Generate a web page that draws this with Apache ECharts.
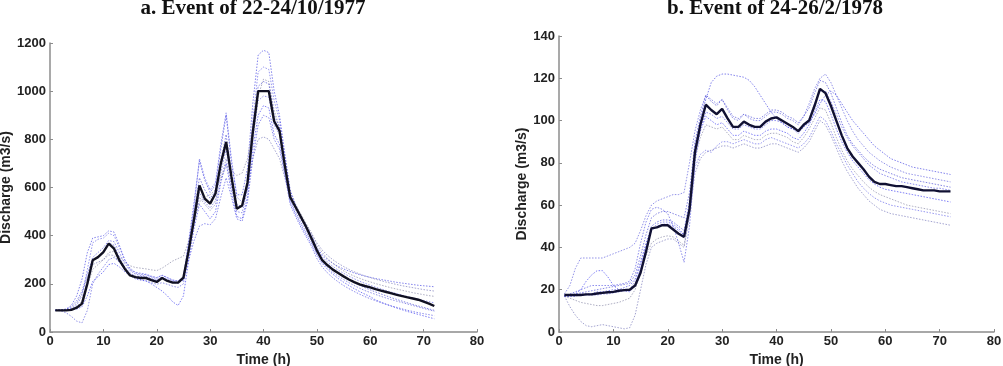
<!DOCTYPE html>
<html><head><meta charset="utf-8">
<script src="https://cdn.jsdelivr.net/npm/echarts@6/dist/echarts.min.js"></script>
<style>html,body{margin:0;padding:0;background:#fff}#c{width:1003px;height:366px}</style>
</head><body><div id="c"></div>
<script>
const hours = [1,2,3,4,5,6,7,8,9,10,11,12,13,14,15,16,17,18,19,20,21,22,23,24,25,26,27,28,29,30,31,32,33,34,35,36,37,38,39,40,41,42,43,44,45,46,47,48,49,50,51,52,53,54,55,56,57,58,59,60,61,62,63,64,65,66,67,68,69,70,71,72];

// Event a (22-24/10/1977)
const obsA = [90,90,90,92,101,118,201,298,311,332, 367,346,298,263,235,228,224,224,215,208, 224,212,205,205,226,340,470,609,554,533, 575,699,789,644,512,525,620,830,1000,1000, 1000,875,835,690,560,519,478,436,388,339, 298,277,259,245,231,218,207,198,191,185, 178,172,166,160,154,149,144,139,134,126, 118,108];
const ensA1 = [90,92,95,110,150,220,330,390,395,400, 420,415,360,300,260,245,240,238,230,225, 235,225,215,210,230,380,540,710,630,580, 610,760,900,700,570,570,680,950,1150,1170, 1160,1000,900,740,590,530,480,440,400,350, 320,300,285,272,262,253,245,238,232,227, 222,218,214,210,206,203,200,197,194,192, 190,188];
const ensA2 = [90,88,80,65,45,38,90,200,240,270, 300,310,290,260,235,220,215,212,205,198, 205,198,190,185,200,330,460,580,540,515, 545,660,760,610,500,495,590,800,960,980, 975,860,820,690,550,500,455,415,375,325, 290,268,248,232,218,205,193,182,172,164, 156,148,141,134,128,122,116,110,104,98, 92,86];
const ensA3 = [90,90,92,100,120,160,230,280,290,300, 320,318,290,260,240,230,228,226,220,215, 222,215,208,205,225,340,450,560,530,505, 530,630,720,600,510,520,600,720,800,810, 800,760,720,640,560,520,480,445,410,370, 340,318,300,285,272,260,250,241,233,226, 219,213,207,202,197,192,188,184,180,176, 173,170];
const ensA4 = [90,90,90,92,95,105,150,210,230,250, 280,285,270,250,235,225,218,212,200,185, 170,150,125,110,150,300,430,530,500,470, 500,620,700,580,480,470,560,760,900,940, 930,820,780,660,540,490,445,405,365,320, 285,260,240,222,207,193,180,168,157,147, 133,124,115,107,99,92,85,79,73,67, 61,55];
const ensA5 = [90,90,92,95,105,130,190,260,280,300, 330,335,315,290,275,268,265,262,258,255, 265,280,295,305,315,380,460,540,560,570, 590,640,690,670,650,660,720,850,980,1050, 1040,920,850,710,580,530,490,450,410,360, 330,305,285,268,254,242,232,223,215,208, 201,195,189,183,178,173,168,163,159,155, 151,148];
const ensA6 = [90,90,95,105,130,170,240,310,330,350, 380,375,330,285,255,240,235,232,225,218, 228,218,210,205,215,300,380,440,450,445, 470,560,640,560,470,460,540,720,860,900, 890,800,760,650,530,480,435,395,355,305, 270,245,225,208,193,180,168,157,147,138, 130,122,115,108,102,96,90,85,80,76, 72,68];
const ensA7 = [90,91,93,98,112,150,260,370,385,390, 410,400,350,300,265,248,244,240,232,226, 236,226,216,212,228,370,520,720,640,590, 620,780,910,720,560,540,620,880,1080,1100, 1090,960,880,730,580,525,478,438,398,345, 312,290,272,257,244,232,221,211,202,194, 186,179,172,165,159,153,147,141,136,131, 126,121];
const ensA8 = [90,90,91,94,100,120,210,300,310,330, 370,360,310,270,245,232,230,228,218,212, 224,214,206,202,218,360,500,640,590,555, 585,710,820,650,530,520,600,850,1020,1040, 1030,900,850,710,565,515,468,428,388,335, 303,280,260,244,230,217,205,194,184,175, 166,158,150,142,135,128,121,114,108,102, 96,90];

// Event b (24-26/2/1978)
const obsB = [17.5,17.5,17.5,17.5,17.8,17.8,18.2,18.5,18.8,19, 19.5,19.8,20,22,28,38,49,49.5,50.5,50.5, 48.5,46.5,45,58,85,98,107.5,105,103,105.5, 101,97,97,99.5,98,97,97,99.5,101,101.5, 100,98.5,97,95,98,100,107,115,113,107, 100,93,87,83,80,77,73.5,71,70,70, 69.5,69,69,68.5,68,67.5,67,67,67,66.5, 66.5,66.5];
const ensB1 = [17,17,17,18,18,18,19,19,19.5,20, 20,21,22,25,33,42,50,52,53,53, 52,50,48,62,88,100,110,118,121,122, 122,121.5,121,120.5,119,116,112,108,104,101, 99,97,96,95,97,99,103,108,112,114, 112,108,104,100,97,94,91,88,86,84, 82,81,80,79,78,77.5,77,76.5,76,75.5, 75,74.5];
const ensB2 = [18,22,30,35,35,35,35,35,36,37, 38,39,40,42,48,55,60,62,63,64, 65,65,66,80,95,105,112,110,108,110, 105,101,100,103,101,100,100,102,104,104, 103,101,100,98,102,108,115,120,122,118, 112,106,100,95,91,88,85,83,81,79.5, 78,77,76,75,74.5,74,73.5,73,72.5,72, 71.5,71];
const ensB3 = [17,12,8,5,3,2.5,3,3.5,3,2.5, 2,1.5,2,8,20,32,40,42,43,44, 44,42,40,55,75,82,85,86,87,88, 88,87,88,89,88,87,87,88,89,89, 88,87,86,85,87,90,95,100,98,93, 87,81,76,72,68,65,62,60,58,57, 56,55.5,55,54.5,54,53.5,53,52.5,52,51.5, 51,50.5];
const ensB4 = [17,17,18,20,24,27,29,29,26,22, 20,19.5,19,22,30,40,48,50,51,51, 50,48,46,60,84,95,102,100,98,99, 96,93,93,95,94,93,93,95,96,96, 95,94,92,91,94,98,104,110,109,103, 96,90,85,81,78,75,72,70,68.5,67.5, 67,66.5,66,65.5,65,64.5,64,63.5,63,62.5, 62,61.5];
const ensB5 = [17,16,15,14,13.5,13,12.5,12.5,13,13.5, 14,15,16,20,28,36,42,44,45,45.5, 45,43,41,56,82,92,98,97,96,97, 94,91,91,93,92,91,91,93,94,94, 93,92,90,89,92,96,101,106,105,99, 92,86,81,77,74,71,68.5,66.5,65,64, 63,62,61,60,59.5,59,58.5,58,57.5,57, 56.5,56];
const ensB6 = [17,18,19,20,21,22,22,22,22,22, 22.5,23,24,30,42,52,58,59,58,56, 50,42,33,50,80,96,104,103,101,102, 99,96,96,98,97,96,96,98,100,100, 99,97,96,94,97,101,108,114,114,109, 103,97,92,88,85,82,79,77,75,74, 73,72,71,70.5,70,69.5,69,68.5,68,68, 67.5,67];
const ensB7 = [17,17,17,17.5,17.5,17.5,17.5,18,18,18.5, 19,19.5,20,24,32,41,48,51,52,52, 51,49,46,58,78,84,86,85,88,90, 90,89,90,91,90,89,89,91,92,91, 90,89,88,87,89,92,97,102,100,95, 89,84,79,75,71,68,65.5,63.5,62,61, 60,59.5,59,58.5,58,57.5,57,56.5,56,55.5, 55,54.5];
const ensB8 = [17.5,17.5,18,18.5,19,19.5,20,20.5,21,21.5, 22,22.5,23,27,36,46,54,56,57,57, 56,55,54,66,90,102,112,109,107,110, 106,102,101,103,102,101,101,103,105,105, 104,102,101,99,102,106,113,119,118,113, 106,99,93,89,86,83,80.5,78.5,77,76, 75,74,73,72.5,72,71.5,71,70.5,70,69.5, 69,68.5];

const titleA = 'a. Event of 22-24/10/1977';
const titleB = 'b. Event of 24-26/2/1978';
const xName = 'Time (h)';
const yName = 'Discharge (m3/s)';

const ensA = [ensA1, ensA2, ensA3, ensA4, ensA5, ensA6, ensA7, ensA8];
const ensB = [ensB1, ensB2, ensB3, ensB4, ensB5, ensB6, ensB7, ensB8];
const ensColors = ['#2f2fe0', '#4a4ad8', '#6666b0', '#2a2af0', '#777799', '#3f3fe0', '#5252e6', '#3535d0'];

const pairs = arr => hours.map((h, i) => [h, arr[i]]);
const labelStyle = {fontFamily: 'Liberation Sans, Arial, sans-serif', fontWeight: 'bold', fontSize: 13, color: '#222'};
const axisLine = {show: true, lineStyle: {color: '#8c8c8c', width: 1.5}};

function xAxisOf(gi) {
  return {gridIndex: gi, type: 'value', min: 0, max: 80, interval: 10,
    name: xName, nameLocation: 'middle', nameGap: 16,
    nameTextStyle: Object.assign({}, labelStyle, {fontSize: 14}),
    axisLine, axisTick: {show: true, inside: true, length: 3, lineStyle: {color: '#8c8c8c'}},
    axisLabel: Object.assign({margin: 3, formatter: v => String(v)}, labelStyle), splitLine: {show: false}};
}
function yAxisOf(gi, max, interval, gap) {
  return {gridIndex: gi, type: 'value', min: 0, max, interval,
    name: yName, nameLocation: 'middle', nameGap: gap, nameRotate: 90,
    nameTextStyle: Object.assign({}, labelStyle, {fontSize: 14}),
    axisLine, axisTick: {show: true, inside: true, length: 3, lineStyle: {color: '#8c8c8c'}},
    axisLabel: Object.assign({margin: 4, formatter: v => String(v)}, labelStyle), splitLine: {show: false}};
}

const series = [];
ensA.forEach((arr, k) => series.push({type: 'line', xAxisIndex: 0, yAxisIndex: 0, data: pairs(arr), showSymbol: false, silent: true,
  lineStyle: {color: ensColors[k], width: 1, type: [1.5, 1.5], opacity: 0.6}}));
series.push({type: 'line', xAxisIndex: 0, yAxisIndex: 0, data: pairs(obsA), showSymbol: false, lineStyle: {color: '#111122', width: 2.4}});
ensB.forEach((arr, k) => series.push({type: 'line', xAxisIndex: 1, yAxisIndex: 1, data: pairs(arr), showSymbol: false, silent: true,
  lineStyle: {color: ensColors[k], width: 1, type: [1.5, 1.5], opacity: 0.6}}));
series.push({type: 'line', xAxisIndex: 1, yAxisIndex: 1, data: pairs(obsB), showSymbol: false, lineStyle: {color: '#111133', width: 2.4}});

const titleStyle = {fontFamily: 'Liberation Serif, Times New Roman, serif', fontWeight: 'bold', fontSize: 21, color: '#111'};
const chart = echarts.init(document.getElementById('c'), null, {renderer: 'canvas'});
chart.setOption({
  animation: false,
  backgroundColor: '#fff',
  title: [
    {text: titleA, left: 248, top: -7, textAlign: 'center', textStyle: titleStyle},
    {text: titleB, left: 770, top: -7, textAlign: 'center', textStyle: titleStyle}
  ],
  grid: [
    {left: 50, top: 43, width: 427, height: 289, containLabel: false, outerBoundsMode: 'none'},
    {left: 559, top: 36, width: 435, height: 296, containLabel: false, outerBoundsMode: 'none'}
  ],
  xAxis: [xAxisOf(0), xAxisOf(1)],
  yAxis: [yAxisOf(0, 1200, 200, 36), yAxisOf(1, 140, 20, 28)],
  series
});
</script></body></html>
